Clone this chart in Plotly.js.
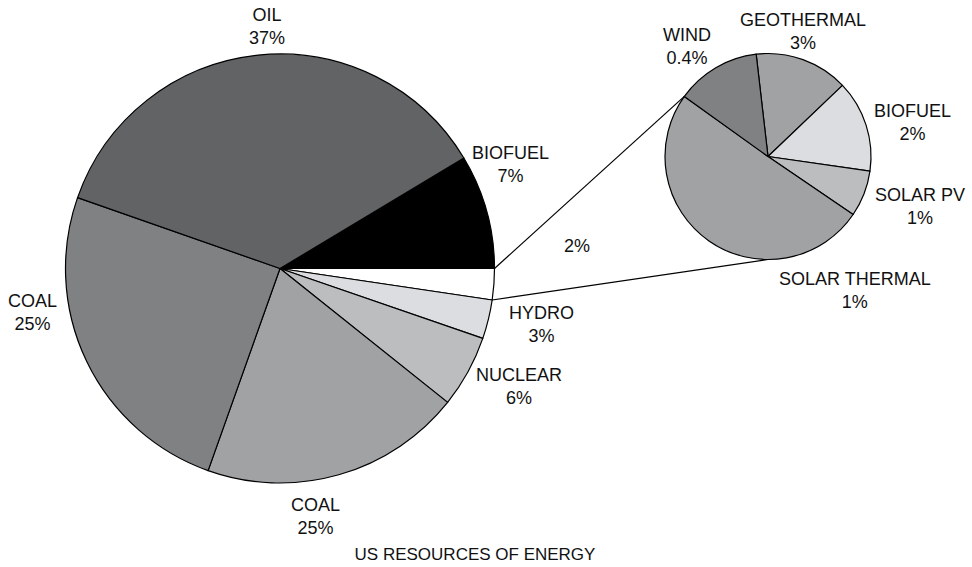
<!DOCTYPE html>
<html>
<head>
<meta charset="utf-8">
<script src="https://cdn.plot.ly/plotly-3.0.1.min.js"></script>
<style>html,body{margin:0;padding:0;background:#fff;}#chart{width:972px;height:567px;}</style>
</head>
<body>
<div id="chart"></div>
<script>
// Main pie (clockwise from the top edge of the black slice)
const mainCategories = ['BIOFUEL', 'OTHER', 'HYDRO', 'NUCLEAR', 'COAL (2)', 'COAL', 'OIL'];
const mainValues = [8.6, 2.35, 2.93, 5.44, 19.7, 24.9, 36.0];
const mainColors = ['#000000', '#ffffff', '#dcdde0', '#bcbdbf', '#a1a2a4', '#808183', '#626365'];
const mainLabels = ['BIOFUEL<br>7%', '2%', 'HYDRO<br>3%', 'NUCLEAR<br>6%', 'COAL<br>25%', 'COAL<br>25%', 'OIL<br>37%'];

// Breakout pie of the 2% slice
const subCategories = ['GEOTHERMAL', 'BIOFUEL', 'SOLAR PV', 'SOLAR THERMAL', 'WIND'];
const subValues = [14.7, 14.4, 7.25, 50.4, 13.25];
const subColors = ['#a1a2a4', '#dcdde0', '#bcbdbf', '#a1a2a4', '#808183'];
const subLabels = ['GEOTHERMAL<br>3%', 'BIOFUEL<br>2%', 'SOLAR PV<br>1%', 'SOLAR THERMAL<br>1%', 'WIND<br>0.4%'];

const chartTitle = 'US RESOURCES OF ENERGY';

const W = 972, H = 567;
const mainDomain = {x: [65.5 / W, 494.5 / W], y: [84 / H, 513 / H]};
const subDomain = {x: [665 / W, 871 / W], y: [307.5 / H, 513.5 / H]};
const mainRotation = 59;
const subRotation = -6.6;

function geom(dom) {
  const cx = (dom.x[0] + dom.x[1]) / 2 * W;
  const cy = (1 - (dom.y[0] + dom.y[1]) / 2) * H;
  const r = Math.min((dom.x[1] - dom.x[0]) * W, (dom.y[1] - dom.y[0]) * H) / 2;
  return {cx, cy, r};
}
function boundaryAngle(values, rotation, k) {
  const tot = values.reduce((a, b) => a + b, 0);
  let s = 0;
  for (let i = 0; i < k; i++) s += values[i];
  return rotation + 360 * s / tot; // compass degrees, clockwise from top
}
function pointAt(g, compassDeg) {
  const a = compassDeg * Math.PI / 180;
  return {x: (g.cx + g.r * Math.sin(a)) / W, y: 1 - (g.cy - g.r * Math.cos(a)) / H};
}

const gm = geom(mainDomain), gs = geom(subDomain);
const otherIdx = mainCategories.indexOf('OTHER');
const p1 = pointAt(gm, boundaryAngle(mainValues, mainRotation, otherIdx));
const p2 = pointAt(gm, boundaryAngle(mainValues, mainRotation, otherIdx + 1));
const q1 = pointAt(gs, boundaryAngle(subValues, subRotation, subCategories.indexOf('WIND')));
const q2 = pointAt(gs, 180);

const font = {family: 'Liberation Sans, Arial, Helvetica, sans-serif', size: 18, color: '#111'};

const traces = [
  {
    type: 'pie', labels: mainCategories, values: mainValues, sort: false,
    direction: 'clockwise', rotation: mainRotation, domain: mainDomain,
    marker: {colors: mainColors, line: {color: '#000', width: 1.2}},
    textinfo: 'none', hoverinfo: 'label+value', showlegend: false
  },
  {
    type: 'pie', labels: subCategories, values: subValues, sort: false,
    direction: 'clockwise', rotation: subRotation, domain: subDomain,
    marker: {colors: subColors, line: {color: '#000', width: 1.2}},
    textinfo: 'none', hoverinfo: 'label+value', showlegend: false
  }
];

// label positions (pixels) for text annotations
const mainLabelPos = [[510, 164], [577, 246], [541, 324], [519, 386], [315, 516], [32, 312], [267, 26]];
const subLabelPos = [[803, 31], [912, 122], [920, 206], [855, 290], [687, 46]];

const annotations = [];
mainLabels.forEach((t, i) => annotations.push({
  text: t, x: mainLabelPos[i][0] / W, y: 1 - mainLabelPos[i][1] / H, xref: 'paper', yref: 'paper',
  showarrow: false, xanchor: 'center', yanchor: 'middle', font: font
}));
subLabels.forEach((t, i) => annotations.push({
  text: t, x: subLabelPos[i][0] / W, y: 1 - subLabelPos[i][1] / H, xref: 'paper', yref: 'paper',
  showarrow: false, xanchor: 'center', yanchor: 'middle', font: font
}));

const shapes = [
  {type: 'line', xref: 'paper', yref: 'paper', x0: p1.x, y0: p1.y, x1: q1.x, y1: q1.y, line: {color: '#000', width: 1.2}},
  {type: 'line', xref: 'paper', yref: 'paper', x0: p2.x, y0: p2.y, x1: q2.x, y1: q2.y, line: {color: '#000', width: 1.2}}
];

const layout = {
  width: W, height: H,
  margin: {l: 0, r: 0, t: 0, b: 0},
  paper_bgcolor: '#fff', plot_bgcolor: '#fff',
  title: {text: chartTitle, x: 475 / W, y: 1 - 554 / H, xanchor: 'center', yanchor: 'middle',
          xref: 'paper', yref: 'container', font: {family: font.family, size: 17, color: '#111'}},
  annotations: annotations,
  shapes: shapes,
  showlegend: false
};

Plotly.newPlot('chart', traces, layout, {displayModeBar: false, staticPlot: true});
</script>
</body>
</html>
